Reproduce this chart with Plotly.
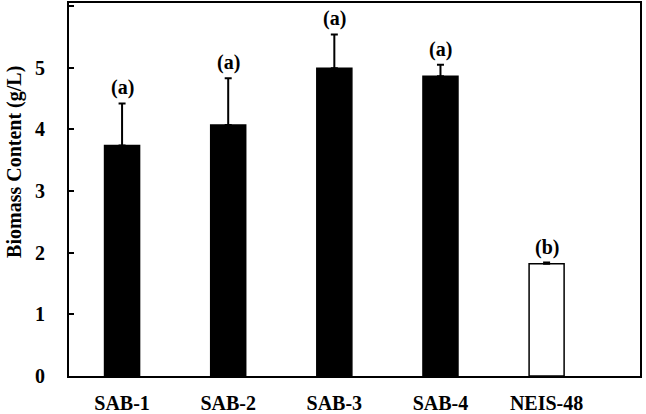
import plotly.graph_objects as go

categories = ["SAB-1", "SAB-2", "SAB-3", "SAB-4", "NEIS-48"]
biomass = [3.74, 4.07, 4.99, 4.86, 1.82]
errors = [0.68, 0.76, 0.55, 0.19, 0.02]
letters = ["(a)", "(a)", "(a)", "(a)", "(b)"]
fills = ["black", "black", "black", "black", "white"]

font = "Liberation Serif"

fig = go.Figure()
fig.add_trace(go.Bar(
    x=categories, y=biomass,
    marker=dict(color=fills, line=dict(color="black", width=1.5)),
    width=0.33,
    error_y=dict(type="data", array=errors, arrayminus=[0]*5, symmetric=False,
                 color="black", thickness=2, width=3.5),
    showlegend=False,
))
for c, v, e, t in zip(categories, biomass, errors, letters):
    fig.add_annotation(x=c, y=v + e, text="<b>%s</b>" % t, showarrow=False,
                       yanchor="bottom", yshift=2,
                       font=dict(family=font, size=20, color="black"))

fig.add_annotation(xref="paper", yref="paper", x=0, y=0.574, xshift=-54,
                   xanchor="center", yanchor="middle", textangle=-90,
                   text="<b>Biomass Content (g/L)</b>", showarrow=False,
                   font=dict(family=font, size=20, color="black"))

fig.update_layout(
    width=646, height=414,
    margin=dict(l=69, r=6, t=3, b=38),
    paper_bgcolor="white", plot_bgcolor="white",
    xaxis=dict(range=[-0.5, 4.88], showline=True, linecolor="black", linewidth=2,
               mirror=True, ticks="", showgrid=False, automargin=False,
               ticklabelstandoff=8,
               tickprefix="<b>", ticksuffix="</b>",
               tickfont=dict(family=font, size=20, color="black")),
    yaxis=dict(range=[0, 6.05], showline=True, linecolor="black", linewidth=2,
               mirror=True, ticks="inside", ticklen=5, tickwidth=1.5, tickcolor="black",
               dtick=1, showgrid=False, zeroline=False, automargin=False,
               ticklabelstandoff=18,
               tickprefix="<b>", ticksuffix="</b>",
               tickfont=dict(family=font, size=20, color="black")),
)
fig.write_html("out.html", config={"displayModeBar": False},
               post_script="document.body.style.margin='0';")
